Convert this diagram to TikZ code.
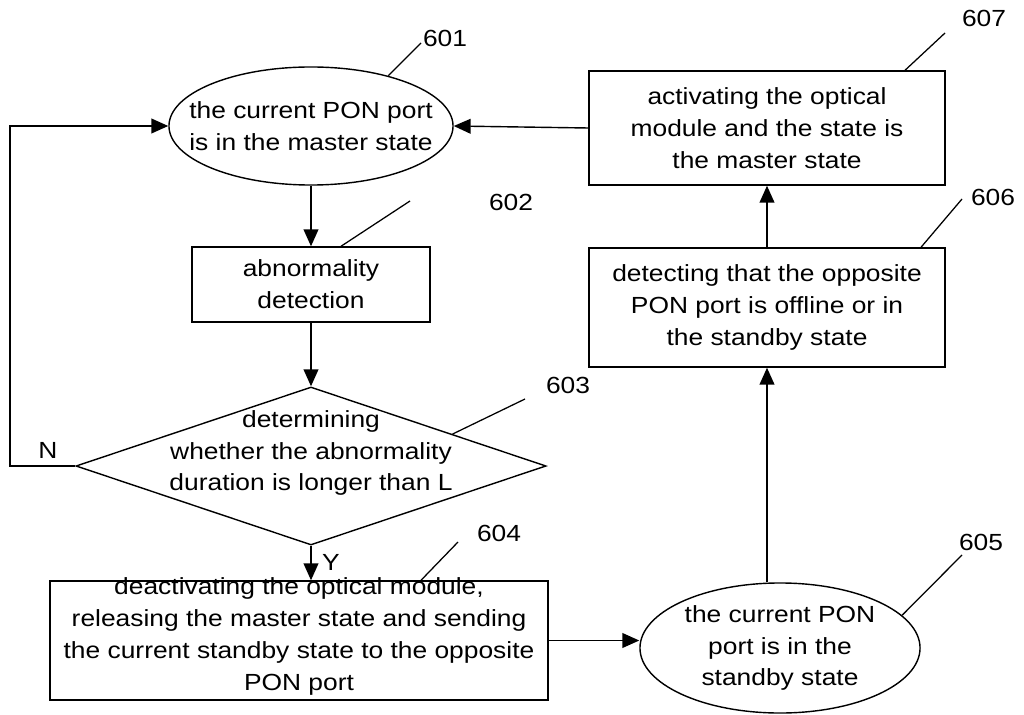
\documentclass[tikz,border=0pt]{standalone}
\usepackage{fontspec}
\setmainfont{Liberation Sans}[FakeStretch=1.13]
\usetikzlibrary{shapes.geometric,arrows.meta,calc}

\tikzset{
  blk/.style={draw, line width=1pt, inner sep=0pt},
  txt/.style={align=center, inner sep=0pt, font=\fontsize{16.6}{22.7}\selectfont},
  arr/.style={line width=1pt, -{Triangle[length=12pt,width=10.5pt]}},
  lead/.style={line width=0.9pt},
}

\begin{document}
\begin{tikzpicture}[x=0.025cm, y=-0.025cm]
        \useasboundingbox (0,0) rectangle (1024,715);

        % Desenha os blocos
        \node[blk, ellipse, minimum width=7.1cm, minimum height=2.95cm,
              label={[txt]center:{the current PON port\\is in the master state}}] (e601) at (311,126) {};
        \node[blk, minimum width=5.95cm, minimum height=1.875cm,
              label={[txt]center:{abnormality\\detection}}] (b602) at (311,284.5) {};
        \node[blk, diamond, minimum width=11.75cm, minimum height=3.95cm,
              label={[txt, yshift=0.325cm]center:{determining\\whether the abnormality\\duration is longer than L}}] (d603) at (311,466) {};
        \node[blk, minimum width=12.45cm, minimum height=2.975cm,
              label={[txt, yshift=0.11cm]center:{deactivating the optical module,\\releasing the master state and sending\\the current standby state to the opposite\\PON port}}] (b604) at (299,640.5) {};
        \node[blk, ellipse, minimum width=7cm, minimum height=3.25cm,
              label={[txt]center:{the current PON\\port is in the\\standby state}}] (e605) at (780,648) {};
        \node[blk, minimum width=8.9cm, minimum height=2.975cm,
              label={[txt]center:{detecting that the opposite\\PON port is offline or in\\the standby state}}] (b606) at (767,307.5) {};
        \node[blk, minimum width=8.9cm, minimum height=2.85cm,
              label={[txt]center:{activating the optical\\module and the state is\\the master state}}] (b607) at (767,128) {};

        % Numeros
        \node[txt] (l601) at (445,38) {601};
        \node[txt] (l602) at (511,202) {602};
        \node[txt] (l603) at (568,385) {603};
        \node[txt] (l604) at (499,533) {604};
        \node[txt] (l605) at (981,542) {605};
        \node[txt] (l606) at (993,197) {606};
        \node[txt] (l607) at (984,18) {607};
        \node[txt] (no) at (48,450) {N};
        \node[txt] (yes) at (331,562) {Y};

        % Setas
        \draw[arr] (e601.south) -- (b602.north);
        \draw[arr] (b602.south) -- (d603.north);
        \draw[arr] (d603.south) -- (d603.south |- b604.north);
        \draw[arr] (b604.east) -- (b604.east -| e605.west);
        \draw[arr] (b606.south |- e605.north) -- (b606.south);
        \draw[arr] (b606.north) -- (b607.south);
        \draw[arr] (b607.west) -- (e601.east);
        \coordinate (loop) at (10,466);
        \draw[arr] (d603.west) -- (loop) |- (e601.west);

        % Linhas de referencia
        \coordinate (t601) at (421,43);
        \coordinate (t602) at (410,201);
        \coordinate (t603) at (525,399);
        \coordinate (t604) at (458,542);
        \coordinate (t605) at (962,555);
        \coordinate (t606) at (962,199);
        \coordinate (t607) at (945,33);
        \draw[lead] (e601.33) -- (t601);
        \draw[lead] ($(b602.north)+(30,0)$) -- (t602);
        \draw[lead] ($(d603.north)!0.6!(d603.east)$) -- (t603);
        \draw[lead] ($(b604.north)+(122,0)$) -- (t604);
        \draw[lead] (e605.15) -- (t605);
        \draw[lead] ($(b606.north)+(154,0)$) -- (t606);
        \draw[lead] ($(b607.north)+(138,0)$) -- (t607);
\end{tikzpicture}
\end{document}
